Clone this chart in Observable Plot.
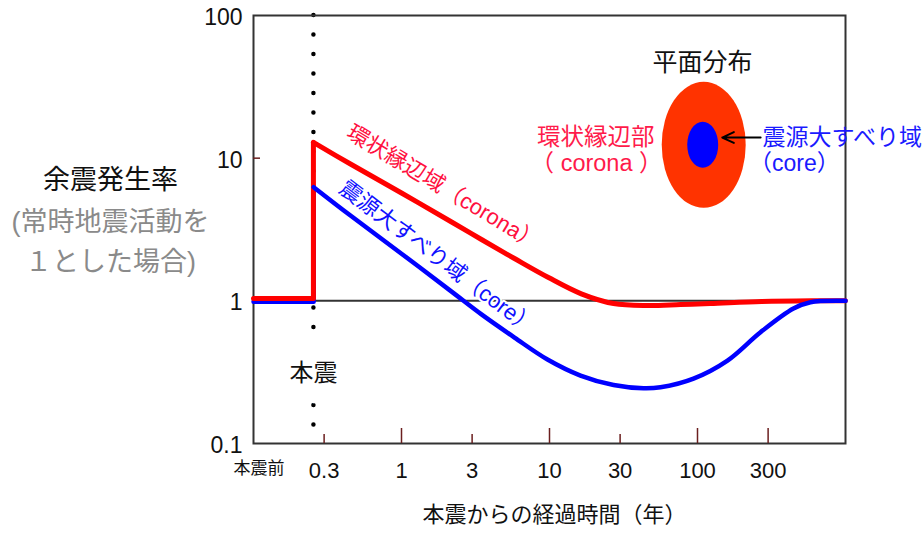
<!DOCTYPE html>
<html><head><meta charset="utf-8">
<script src="https://cdn.jsdelivr.net/npm/d3@7"></script>
<script src="https://cdn.jsdelivr.net/npm/@observablehq/plot@0.6"></script>
<style>
body{margin:0;background:#fff;}
#chart svg{font-family:"Liberation Sans","Noto Sans CJK JP",sans-serif;}
</style></head><body><div id="chart"></div>
<script>
// ---- data ----
const mainshockTime = 0.254;
const yTicks = [0.1, 1, 10, 100];
const yInnerTicks = [10];
const xMajorTicks = [1, 10, 100, 300];
const xMinorTicks = [0.3, 3, 30];
const xTickLabels = [0.3, 1, 3, 10, 30, 100, 300];
const preLabel = "本震前";
const preLabelTime = 0.109;
const xTitle = "本震からの経過時間（年）";
const yTitle = "余震発生率";
const yTitleSub1 = "(常時地震活動を";
const yTitleSub2 = "１とした場合)";
const mainshockLabel = "本震";

// corona (red): before mainshock and jump
const coronaStepT = [0.1, 0.254, 0.254];
const coronaStepV = [1.04, 1.04, 12.9];
const coronaDecayT = [0.254, 0.452, 1, 2.18, 3.47, 5.8, 9.84, 16.4, 27.1, 45.9, 76.7, 122, 271, 589, 1000];
const coronaDecayV = [12.9, 9.1, 5.70, 3.57, 2.69, 1.98, 1.457, 1.12, 0.957, 0.927, 0.942, 0.957, 0.989, 1.0, 1.0];
// core (blue)
const coreStepT = [0.1, 0.255, 0.255];
const coreStepV = [0.985, 0.985, 6.26];
const coreDecayT = [0.255, 0.452, 1, 2.18, 3.47, 5.8, 9.69, 16.2, 27.1, 43.2, 56.2, 94, 159.5, 266.6, 445, 580, 968, 1000];
const coreDecayV = [6.26, 3.96, 2.14, 1.16, 0.803, 0.553, 0.388, 0.2995, 0.257, 0.244, 0.248, 0.2853, 0.3816, 0.6025, 0.883, 0.978, 1.0, 1.0];

// annotations (anchored in data space)
const curveLabels = [
  {text: "環状縁辺域（corona）", t: 1.92, v: 6.22, angle: 31, color: "#ff1040"},
  {text: "震源大すべり域（core）", t: 1.75, v: 2.01, angle: 37, color: "#1010ff"}
];
const insetTitle = {text: "平面分布", t: 108, v: 46.8};
const insetCenter = {t: 111, v: 12.3};
const insetLeftLabels = [{text: "環状縁辺部", t: 20.5, v: 13.95}, {text: "（ corona ）", t: 20.8, v: 9.17}];
const insetRightLabels = [{text: "震源大すべり域", t: 275, v: 13.95}, {text: "（core）", t: 223, v: 9.17}];
const insetArrow = [{t1: 267, t2: 147, v: 13.95}];

const toRows = (T, V) => T.map((t, i) => ({t, v: V[i]}));

function insetEllipses(index, scales) {
  const g = d3.create("svg:g");
  const cx = scales.x(insetCenter.t), cy = scales.y(insetCenter.v);
  g.append("ellipse").attr("cx", cx).attr("cy", cy).attr("rx", 42).attr("ry", 63).attr("fill", "#ff3300");
  g.append("ellipse").attr("cx", cx - 1).attr("cy", cy).attr("rx", 15.5).attr("ry", 23).attr("fill", "#0000ff");
  return g.node();
}

const tickColor = "#6b1f1f";
const chart = Plot.plot({
  width: 923, height: 539,
  marginLeft: 253, marginRight: 78, marginTop: 15, marginBottom: 96,
  x: {type: "log", domain: [0.1, 1000]},
  y: {type: "log", domain: [0.1, 100]},
  style: {background: "#fff"},
  marks: [
    Plot.ruleY([1], {stroke: "#333", strokeWidth: 2}),
    Plot.ruleX([mainshockTime], {stroke: "#000", strokeWidth: 4.5, strokeDasharray: "0,19.5", strokeLinecap: "round"}),
    Plot.frame({stroke: "#333", strokeWidth: 2}),
    Plot.axisY(yTicks, {tickSize: 0, tickPadding: 11, fontSize: 23, dy: 2, tickFormat: d => String(d), color: "#111", label: null}),
    Plot.axisY(yInnerTicks, {tickSize: -7, tickFormat: () => "", color: tickColor, strokeWidth: 1.5, label: null}),
    Plot.axisX(xMajorTicks, {tickSize: -15, tickFormat: () => "", color: tickColor, strokeWidth: 1.5, label: null}),
    Plot.axisX(xMinorTicks, {tickSize: -9, tickFormat: () => "", color: tickColor, strokeWidth: 1.5, label: null}),
    Plot.text(xTickLabels, {x: d => d, text: d => String(d), frameAnchor: "bottom", lineAnchor: "top", dy: 19, fontSize: 22, fill: "#111"}),
    Plot.text([preLabel], {x: () => preLabelTime, frameAnchor: "bottom", lineAnchor: "top", dy: 18, fontSize: 17, fill: "#111"}),
    Plot.text([xTitle], {frameAnchor: "bottom", dy: 78, dx: 5, fontSize: 22, fill: "#111"}),
    Plot.text([yTitle], {frameAnchor: "left", textAnchor: "middle", dx: -143, dy: -49, fontSize: 27, fill: "#111"}),
    Plot.text([yTitleSub1], {frameAnchor: "left", textAnchor: "middle", dx: -143, dy: -7, fontSize: 27, fill: "#8a8a8a"}),
    Plot.text([yTitleSub2], {frameAnchor: "left", textAnchor: "middle", dx: -143, dy: 33, fontSize: 27, fill: "#8a8a8a"}),
    Plot.text([mainshockLabel], {x: () => mainshockTime, y: () => 0.31, fontSize: 24, fill: "#111", stroke: "#fff", strokeWidth: 40}),
    // curves
    Plot.line(toRows(coreStepT, coreStepV), {x: "t", y: "v", stroke: "#0000ff", strokeWidth: 4.5, curve: "linear"}),
    Plot.line(toRows(coronaStepT, coronaStepV), {x: "t", y: "v", stroke: "#ff0000", strokeWidth: 5, curve: "linear"}),
    Plot.line(toRows(coronaDecayT, coronaDecayV), {x: "t", y: "v", stroke: "#ff0000", strokeWidth: 5, curve: "catmull-rom"}),
    Plot.line(toRows(coreDecayT, coreDecayV), {x: "t", y: "v", stroke: "#0000ff", strokeWidth: 4.5, curve: "catmull-rom"}),
    Plot.text(curveLabels, {x: "t", y: "v", text: "text", rotate: "angle", fill: "color", fontSize: 22, stroke: "#fff", strokeWidth: 4}),
    // inset
    insetEllipses,
    Plot.text([insetTitle], {x: "t", y: "v", text: "text", fontSize: 25, fill: "#111"}),
    Plot.text(insetLeftLabels, {x: "t", y: "v", text: "text", fontSize: 23.5, fill: "#ff1a4a"}),
    Plot.text(insetRightLabels, {x: "t", y: "v", text: "text", fontSize: 23, fill: "#1a1aff", textAnchor: "start"}),
    Plot.arrow(insetArrow, {x1: "t1", x2: "t2", y1: "v", y2: "v", stroke: "#000", strokeWidth: 2, headLength: 11, headAngle: 50})
  ]
});
document.getElementById("chart").append(chart);
</script></body></html>
